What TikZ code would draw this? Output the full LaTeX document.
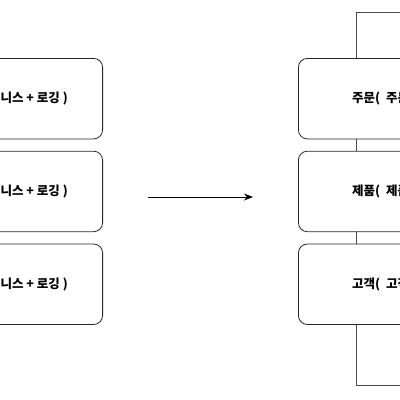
\documentclass[tikz,border=0pt]{standalone}
\usepackage{fontspec}
\setmainfont{Noto Sans CJK KR}
\usetikzlibrary{arrows.meta,positioning}

\begin{document}
\begin{tikzpicture}[
  x=1pt,y=-1pt,
  font=\fontsize{12.5}{14}\selectfont\bfseries,
  box/.style={draw=black!85,line width=.8pt,rounded corners=9pt,fill=white,minimum width=200pt,minimum height=80.5pt,inner sep=0pt},
  frame/.style={draw=black!70,line width=.9pt},
  lbl/.style={inner sep=0pt},
  arr/.style={-{Stealth[length=9pt,width=7pt]},line width=.8pt}
]
\useasboundingbox (0,0) rectangle (400,400);
\clip (0,0) rectangle (400,400);
% frame behind the right column
\node[frame,minimum width=170pt,minimum height=373pt,anchor=north west] (aspect) at (356,12) {};
% left column
\node[box,anchor=north east] (lorder) at (103,58) {};
\node[box,below=11.5pt of lorder] (lprod) {};
\node[box,below=11.5pt of lprod] (lcust) {};
\node[lbl,anchor=east] at ([xshift=-35pt]lorder.east) {주문( 비즈니스 + 로깅 )};
\node[lbl,anchor=east] at ([xshift=-35pt]lprod.east) {제품( 비즈니스 + 로깅 )};
\node[lbl,anchor=east] at ([xshift=-35pt]lcust.east) {고객( 비즈니스 + 로깅 )};
% right column
\node[box,anchor=north west] (rorder) at (298,58) {};
\node[box,below=11.5pt of rorder] (rprod) {};
\node[box,below=11.5pt of rprod] (rcust) {};
\node[lbl,anchor=west] at ([xshift=54pt]rorder.west) {주문(\hspace{3pt} 주문 비즈니스 )};
\node[lbl,anchor=west] at ([xshift=54pt]rprod.west) {제품(\hspace{3pt} 제품 비즈니스 )};
\node[lbl,anchor=west] at ([xshift=54pt]rcust.west) {고객(\hspace{3pt} 고객 비즈니스 )};
% arrow
\coordinate (from) at (148,197);
\coordinate (to) at (253,197);
\draw[arr] (from) -- (to);
\end{tikzpicture}
\end{document}
